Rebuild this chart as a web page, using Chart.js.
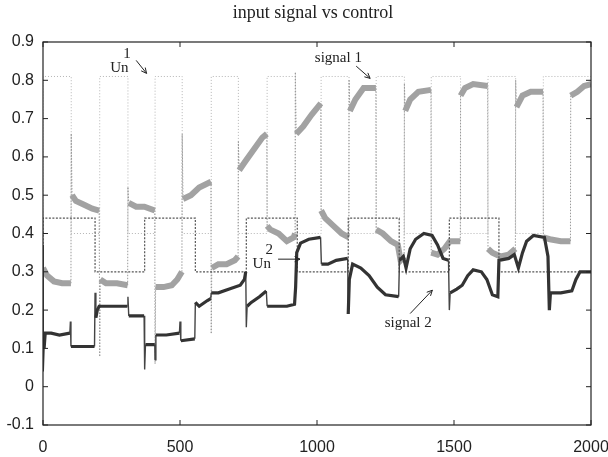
<!DOCTYPE html>
<html>
<head>
<meta charset="utf-8">
<script src="https://cdn.jsdelivr.net/npm/chart.js@4"></script>
<style>
  html, body { margin: 0; padding: 0; background: #fff; }
  #wrap { width: 608px; height: 457px; position: relative; }
</style>
</head>
<body>
<div id="wrap"><canvas id="c"></canvas></div>
<script>
// control Un1: switching times and levels (stepped)
const un1Times = [0, 103, 207, 310, 409, 508, 614, 713, 818, 921, 1015, 1117, 1216, 1319, 1417, 1524, 1624, 1725, 1826, 1926, 2000]
const un1Levels = [0.4, 0.81, 0.4, 0.81, 0.4, 0.81, 0.4, 0.81, 0.4, 0.81, 0.4, 0.81, 0.4, 0.81, 0.4, 0.81, 0.4, 0.81, 0.4, 0.81, 0.81]

// control Un2
const un2Times = [0, 190, 371, 556, 742, 928, 1114, 1300, 1483, 1664, 1848, 2000]
const un2Levels = [0.3, 0.44, 0.3, 0.44, 0.3, 0.44, 0.3, 0.44, 0.3, 0.44, 0.3, 0.3]

// signal 1 (light grey)
const sig1X = [0, 15, 40, 70, 102,
  103, 106, 120, 150, 180, 205,
  207, 209, 230, 270, 309,
  310, 313, 340, 370, 408,
  409, 411, 440, 470, 490, 507,
  508, 511, 540, 570, 613,
  614, 616, 640, 670, 700, 712,
  713, 716, 740, 770, 800, 817,
  818, 830, 860, 890, 915, 920,
  921, 924, 950, 980, 1014,
  1015, 1030, 1060, 1090, 1116,
  1117, 1120, 1140, 1170, 1215,
  1216, 1240, 1270, 1295, 1305, 1318,
  1319, 1322, 1340, 1370, 1416,
  1417, 1440, 1465, 1485, 1523,
  1524, 1540, 1570, 1623,
  1624, 1640, 1670, 1700, 1724,
  1725, 1728, 1750, 1780, 1825,
  1826, 1850, 1890, 1925,
  1926, 1950, 1975, 2000]
const sig1Y = [0.31, 0.29, 0.275, 0.27, 0.27,
  0.66, 0.50, 0.485, 0.475, 0.465, 0.46,
  0.08, 0.28, 0.27, 0.27, 0.265,
  0.52, 0.48, 0.47, 0.47, 0.46,
  0.06, 0.26, 0.26, 0.265, 0.28, 0.30,
  0.66, 0.49, 0.50, 0.52, 0.535,
  0.14, 0.31, 0.32, 0.32, 0.33, 0.34,
  0.64, 0.565, 0.59, 0.62, 0.65, 0.66,
  0.42, 0.41, 0.40, 0.38, 0.39, 0.40,
  0.82, 0.66, 0.68, 0.71, 0.74,
  0.46, 0.44, 0.42, 0.40, 0.39,
  0.80, 0.72, 0.75, 0.78, 0.78,
  0.41, 0.40, 0.38, 0.37, 0.33, 0.34,
  0.79, 0.72, 0.75, 0.77, 0.775,
  0.35, 0.345, 0.36, 0.38, 0.38,
  0.76, 0.78, 0.79, 0.785,
  0.36, 0.35, 0.34, 0.345, 0.36,
  0.80, 0.73, 0.76, 0.77, 0.77,
  0.39, 0.385, 0.38, 0.38,
  0.76, 0.77, 0.785, 0.79]

// signal 2 (dark)
const sig2X = [0, 1, 4, 8, 30, 60, 98, 100, 102, 140, 188,
  190, 193, 198, 205, 250, 308,
  310, 313, 340, 369,
  371, 374, 395, 408,
  409, 412, 450, 498, 500, 503, 554,
  556, 570, 600, 612, 614, 640, 680, 720, 735, 740,
  742, 745, 760, 790, 815,
  818, 850, 890, 918, 922, 926, 940, 970, 1013,
  1016, 1040, 1070, 1112,
  1114, 1118, 1130, 1160, 1190, 1220, 1250, 1298,
  1301, 1315, 1325, 1340, 1360, 1390, 1420, 1440, 1460, 1480,
  1483, 1486, 1510, 1530, 1550, 1570, 1600, 1620, 1640, 1660,
  1664, 1700, 1720, 1735, 1750, 1765, 1790, 1830, 1843,
  1848, 1852, 1890, 1930, 1945, 1960, 2000]
const sig2Y = [0.37, 0.04, 0.10, 0.14, 0.14, 0.135, 0.14, 0.17, 0.105, 0.105, 0.105,
  0.245, 0.18, 0.20, 0.21, 0.21, 0.21,
  0.235, 0.185, 0.185, 0.185,
  0.045, 0.11, 0.11, 0.11,
  0.07, 0.135, 0.135, 0.14, 0.17, 0.12, 0.125,
  0.22, 0.21, 0.225, 0.23, 0.245, 0.245, 0.255, 0.265, 0.28, 0.30,
  0.155, 0.21, 0.22, 0.235, 0.25,
  0.21, 0.21, 0.21, 0.215, 0.26, 0.35, 0.375, 0.385, 0.39,
  0.32, 0.32, 0.33, 0.335,
  0.19, 0.28, 0.32, 0.31, 0.29, 0.26, 0.24, 0.235,
  0.33, 0.34, 0.31, 0.36, 0.385, 0.40, 0.395, 0.37, 0.335, 0.33,
  0.20, 0.245, 0.255, 0.265, 0.29, 0.305, 0.30, 0.28, 0.24, 0.235,
  0.33, 0.335, 0.345, 0.31, 0.35, 0.38, 0.395, 0.39, 0.34,
  0.20, 0.245, 0.245, 0.25, 0.28, 0.30, 0.30]

const xTicks = [0, 500, 1000, 1500, 2000]
const yTicks = [-0.1, 0, 0.1, 0.2, 0.3, 0.4, 0.5, 0.6, 0.7, 0.8, 0.9]

const titleText = 'input signal vs control'

// text labels placed in data coordinates
const notes = [
    {text: 'Un', sup: '1', x: 245, y: 0.822, arrow: [[340, 0.852], [378, 0.818]]},
    {text: 'signal 1', x: 1078, y: 0.847, arrow: [[1143, 0.837], [1194, 0.805]]},
    {text: 'Un', sup: '2', x: 765, y: 0.31, arrow: [[858, 0.333], [938, 0.333]]},
    {text: 'signal 2', x: 1333, y: 0.155, arrow: [[1340, 0.191], [1421, 0.252]]}
]

// jumps (dx <= 3) are drawn as thin lines, the rest as the thick trace
const JUMP = 3
function mainPts(xs, ys) {
    const out = []
    for (let i = 0; i < xs.length; i++) {
        out.push({x: xs[i], y: ys[i]})
        if (i < xs.length - 1 && xs[i + 1] - xs[i] <= JUMP) {
            out.push({x: (xs[i] + xs[i + 1]) / 2, y: null})
        }
    }
    return out
}
function jumpPts(xs, ys) {
    const out = []
    for (let i = 0; i < xs.length - 1; i++) {
        if (xs[i + 1] - xs[i] <= JUMP) {
            out.push({x: xs[i], y: ys[i]})
            out.push({x: xs[i + 1], y: ys[i + 1]})
            out.push({x: xs[i + 1], y: null})
        }
    }
    return out
}
function pts(xs, ys) {
    return xs.map((x, i) => ({x: x, y: ys[i]}))
}

const decor = {
    id: 'decor',
    afterDraw(chart) {
        const ctx = chart.ctx
        const a = chart.chartArea
        const xs = chart.scales.x
        const ys = chart.scales.y
        ctx.save()
        // title
        ctx.fillStyle = '#222'
        ctx.font = '18px "Liberation Serif", serif'
        ctx.textAlign = 'center'
        ctx.textBaseline = 'middle'
        ctx.fillText(titleText, 313, 13)
        // box
        ctx.strokeStyle = '#222'
        ctx.lineWidth = 1.2
        ctx.strokeRect(a.left, a.top, a.right - a.left, a.bottom - a.top)
        // inward ticks on all sides
        ctx.lineWidth = 1
        const tl = 5
        xTicks.forEach(v => {
            const p = xs.getPixelForValue(v)
            ctx.beginPath()
            ctx.moveTo(p, a.bottom); ctx.lineTo(p, a.bottom - tl)
            ctx.moveTo(p, a.top); ctx.lineTo(p, a.top + tl)
            ctx.stroke()
        })
        yTicks.forEach(v => {
            const p = ys.getPixelForValue(v)
            ctx.beginPath()
            ctx.moveTo(a.left, p); ctx.lineTo(a.left + tl, p)
            ctx.moveTo(a.right, p); ctx.lineTo(a.right - tl, p)
            ctx.stroke()
        })
        // notes
        ctx.textBaseline = 'alphabetic'
        notes.forEach(n => {
            const px = xs.getPixelForValue(n.x)
            const py = ys.getPixelForValue(n.y)
            ctx.fillStyle = '#222'
            ctx.font = '15px "Liberation Serif", serif'
            if (n.sup) {
                ctx.textAlign = 'left'
                ctx.fillText(n.text, px, py)
                ctx.fillText(n.sup, px + 13, py - 14)
            } else {
                ctx.textAlign = 'center'
                ctx.fillText(n.text, px, py)
            }
            const [p0, p1] = n.arrow
            const x0 = xs.getPixelForValue(p0[0]), y0 = ys.getPixelForValue(p0[1])
            const x1 = xs.getPixelForValue(p1[0]), y1 = ys.getPixelForValue(p1[1])
            ctx.strokeStyle = '#222'
            ctx.lineWidth = 1
            ctx.beginPath()
            ctx.moveTo(x0, y0); ctx.lineTo(x1, y1)
            const ang = Math.atan2(y1 - y0, x1 - x0)
            ctx.moveTo(x1, y1); ctx.lineTo(x1 - 6 * Math.cos(ang - 0.45), y1 - 6 * Math.sin(ang - 0.45))
            ctx.moveTo(x1, y1); ctx.lineTo(x1 - 6 * Math.cos(ang + 0.45), y1 - 6 * Math.sin(ang + 0.45))
            ctx.stroke()
        })
        ctx.restore()
    }
}

const canvas = document.getElementById('c')
new Chart(canvas, {
    type: 'line',
    data: {
        datasets: [
            {
                label: 'signal 2',
                data: mainPts(sig2X, sig2Y),
                borderColor: '#333',
                borderWidth: 3.2,
                pointRadius: 0,
                spanGaps: false
            },
            {
                label: 'signal 2 jumps',
                data: jumpPts(sig2X, sig2Y),
                borderColor: '#444',
                borderWidth: 1.4,
                pointRadius: 0,
                spanGaps: false
            },
            {
                label: 'Un2',
                data: pts(un2Times, un2Levels),
                borderColor: '#555',
                borderWidth: 1.2,
                borderDash: [2, 1.5],
                stepped: 'after',
                pointRadius: 0
            },
            {
                label: 'signal 1',
                data: mainPts(sig1X, sig1Y),
                borderColor: '#a2a2a2',
                borderWidth: 6,
                pointRadius: 0,
                spanGaps: false
            },
            {
                label: 'signal 1 jumps',
                data: jumpPts(sig1X, sig1Y),
                borderColor: '#9a9a9a',
                borderWidth: 1,
                borderDash: [1.5, 1.5],
                pointRadius: 0,
                spanGaps: false
            },
            {
                label: 'Un1',
                data: pts(un1Times, un1Levels),
                borderColor: '#b5b5b5',
                borderWidth: 1,
                borderDash: [1, 2],
                stepped: 'after',
                pointRadius: 0
            }
        ]
    },
    options: {
        responsive: true,
        maintainAspectRatio: false,
        animation: false,
        layout: {padding: {top: 42, right: 17, left: 0, bottom: 0}},
        plugins: {
            legend: {display: false},
            tooltip: {enabled: false},
            title: {display: false}
        },
        scales: {
            x: {
                type: 'linear',
                min: 0,
                max: 2000,
                afterBuildTicks: s => { s.ticks = xTicks.map(v => ({value: v})) },
                afterFit: s => { s.height = 32; s.paddingLeft = 0; s.paddingRight = 0 },
                grid: {display: false, drawTicks: false},
                border: {display: false},
                ticks: {
                    padding: 13,
                    color: '#222',
                    font: {family: '"Liberation Sans", sans-serif', size: 16},
                    maxRotation: 0,
                    callback: v => String(v)
                }
            },
            y: {
                type: 'linear',
                min: -0.1,
                max: 0.9,
                afterBuildTicks: s => { s.ticks = yTicks.map(v => ({value: v})) },
                afterFit: s => { s.width = 43; s.paddingTop = 0; s.paddingBottom = 0 },
                grid: {display: false, drawTicks: false},
                border: {display: false},
                ticks: {
                    padding: 9,
                    color: '#222',
                    font: {family: '"Liberation Sans", sans-serif', size: 16},
                    callback: v => String(Math.round(v * 10) / 10)
                }
            }
        }
    },
    plugins: [decor]
})
</script>
</body>
</html>
